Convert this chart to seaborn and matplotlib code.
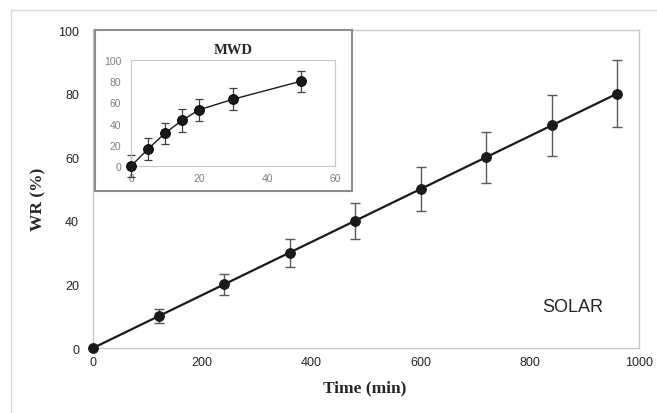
import matplotlib
matplotlib.use("Agg")
import matplotlib.pyplot as plt
import seaborn as sns
import pandas as pd
from matplotlib.lines import Line2D

# main series (SOLAR)
time_min = [0, 120, 240, 360, 480, 600, 720, 840, 960]
wr_solar = [0, 10, 20, 30, 40, 50, 60, 70, 80]
err_solar = [0, 2.2, 3.3, 4.4, 5.7, 7.0, 8.0, 9.5, 10.5]

# inset series (MWD)
time_mwd = [0, 5, 10, 15, 20, 30, 50]
wr_mwd = [0, 16, 31, 43, 53, 63, 80]
err_mwd = [10, 10.5, 10, 10.5, 10.5, 10.5, 10]

sns.set_style("white")
serif = "Liberation Serif"
sans = "Liberation Sans"
plt.rcParams["font.family"] = [sans, "DejaVu Sans"]

df_main = pd.DataFrame({"t": time_min, "wr": wr_solar})
df_mwd = pd.DataFrame({"t": time_mwd, "wr": wr_mwd})

fig = plt.figure(figsize=(6.57, 4.14), dpi=100)

# outer frame
fig.add_artist(Line2D([11/657, 11/657], [0, 1 - 11/414], transform=fig.transFigure, color="#d9d9d9", lw=1))
fig.add_artist(Line2D([11/657, 1], [1 - 11/414, 1 - 11/414], transform=fig.transFigure, color="#d9d9d9", lw=1))

ax = fig.add_axes([0.1416, 0.157, 0.831, 0.768])
ax.errorbar(time_min, wr_solar, yerr=err_solar, fmt="none", ecolor="#595959",
            elinewidth=1, capsize=3.5, capthick=1, zorder=2)
sns.lineplot(data=df_main, x="t", y="wr", ax=ax, color="#1a1a1a", lw=1.6,
             marker="o", markersize=7, markeredgecolor="#1a1a1a", zorder=3)
ax.set_xlim(0, 1000)
ax.set_ylim(0, 100)
ax.set_xticks(range(0, 1001, 200))
ax.set_yticks(range(0, 101, 20))
for s in ax.spines.values():
    s.set_color("#c8c8c8")
    s.set_linewidth(1)
ax.tick_params(length=0, labelsize=9, labelcolor="#262626")
ax.tick_params(axis="y", pad=10)
ax.tick_params(axis="x", pad=6)
ax.set_xlabel("Time (min)", family=serif, fontweight="bold", fontsize=12.5, va="center")
ax.set_ylabel("WR (%)", family=serif, fontweight="bold", fontsize=12.5, va="center")
ax.xaxis.set_label_coords(0.498, -0.123)
ax.yaxis.set_label_coords(-0.1, 0.47)
ax.text(0.879, 0.132, "SOLAR", transform=ax.transAxes, ha="center", va="center",
        fontsize=13, color="#262626", family=sans)
for c in ax.collections + ax.lines:
    c.set_clip_on(False)

# inset frame
fr = fig.add_axes([0.1446, 0.536, 0.391, 0.389])
fr.set_facecolor("white")
fr.set_xticks([])
fr.set_yticks([])
for s in fr.spines.values():
    s.set_color("#8c8c8c")
    s.set_linewidth(1.5)

ins = fig.add_axes([0.1994, 0.5966, 0.3105, 0.256])
ins.errorbar(time_mwd, wr_mwd, yerr=err_mwd, fmt="none", ecolor="#404040",
             elinewidth=0.9, capsize=3, capthick=0.9, zorder=2)
sns.lineplot(data=df_mwd, x="t", y="wr", ax=ins, color="#1a1a1a", lw=1,
             marker="o", markersize=7, markeredgecolor="#000000", zorder=3)
ins.set_xlim(0, 60)
ins.set_ylim(0, 100)
ins.set_xticks(range(0, 61, 20))
ins.set_yticks(range(0, 101, 20))
for s in ins.spines.values():
    s.set_color("#c8c8c8")
    s.set_linewidth(0.8)
ins.tick_params(length=0, labelsize=7.5, labelcolor="#808080")
ins.tick_params(axis="y", pad=7)
ins.tick_params(axis="x", pad=5)
ins.set_xlabel("")
ins.set_ylabel("")
ins.set_title("MWD", family=serif, fontweight="bold", fontsize=10.5, pad=5)
for c in ins.collections + ins.lines:
    c.set_clip_on(False)

fig.savefig("out.png", dpi=100)
